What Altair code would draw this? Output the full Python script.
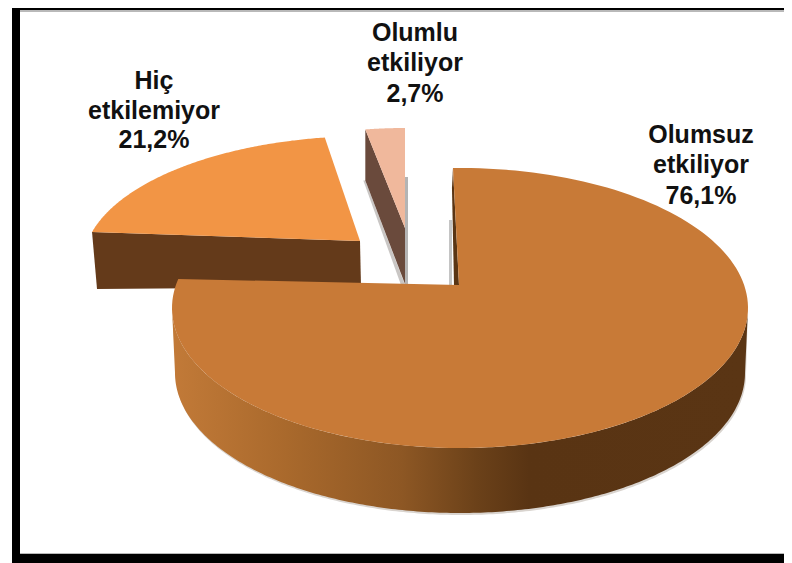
import numpy as np
import altair as alt

# --- chart values ---
categories = ["Olumsuz etkiliyor", "Hiç etkilemiyor", "Olumlu etkiliyor"]
shares = [76.1, 21.2, 2.7]
label_lines = [["Olumsuz", "etkiliyor", "76,1%"],
               ["Hiç", "etkilemiyor", "21,2%"],
               ["Olumlu", "etkiliyor", "2,7%"]]

# --- styling / layout (page pixels) ---
OFF = 8
top_colors = ["#c87a37", "#f29545", "#f0b89c"]
side_colors = ["#5a3514", "#643a1a", "#6a4a3c"]
label_x = [701, 154, 415]
label_y = [[135, 165, 196], [81, 111, 140], [33, 63, 94]]
FONT = "Liberation Sans"
FONT_SIZE = 25

# slice angles (clockwise from 12 o'clock) follow from the shares
ends = np.cumsum(shares) / sum(shares) * 360
starts = np.r_[0, ends[:-1]]

# ellipse: cx, cy, rx, ry; apex; depth; view offset for start/end angle
main_e = dict(cx=460, cy=308, rx=288, ry=140, apex=(459, 285), depth=65, a0=-1.4, a1=8)
main_low = dict(cx=460, cy=373, rx=285, ry=140)
hic_e = dict(cx=368, cy=264, rx=285, ry=128, apex=(360, 241), depth=46, a0=10.5, a1=1)
olu_e = dict(cx=405, cy=228, rx=235, ry=100, apex=(405, 228), depth=54, a0=0, a1=0)


def ell(e, deg):
    t = np.radians(np.atleast_1d(deg))
    return np.c_[e["cx"] + e["rx"] * np.sin(t), e["cy"] - e["ry"] * np.cos(t)]


def shape(points):
    pts = [[float(x), float(y)] for x, y in points]
    pts.append(pts[0])
    return {"type": "Feature", "properties": {},
            "geometry": {"type": "Polygon", "coordinates": [pts]}}


def wedge(e, s, t):
    arc = ell(e, np.linspace(s + e["a0"], t + e["a1"], 160))
    return shape(np.vstack([[e["apex"]], arc]))


def layer_shape(feature, **style):
    return (alt.Chart(alt.Data(values=[feature]))
            .mark_geoshape(filled=True, strokeWidth=0, **style)
            .project(type="identity", scale=1, translate=[-OFF, -OFF]))


def rect(x0, x1, y0, y1, color):
    return alt.Chart(alt.Data(values=[{"k": 1}])).mark_rect(color=color).encode(
        x=alt.value(x0 - OFF), x2=alt.value(x1 - OFF),
        y=alt.value(y0 - OFF), y2=alt.value(y1 - OFF))


layers = []

# Hiç etkilemiyor: cut face, then top
hx, hy = hic_e["apex"]
h_start = ell(hic_e, starts[1] + hic_e["a0"])[0]
layers.append(layer_shape(shape([h_start, (hx, hy), (hx + 1, hy + hic_e["depth"]),
                                 (h_start[0] + 5, h_start[1] + 57)]), fill=side_colors[1]))
layers.append(layer_shape(wedge(hic_e, starts[1], ends[1]), fill=top_colors[1]))

# Olumlu etkiliyor: soft shadow, cut face, top
ox, oy = olu_e["apex"]
o_start = ell(olu_e, starts[2])[0]
layers.append(rect(405, 408, 177, 284, "#b4b4b4"))
layers.append(layer_shape(shape([(o_start[0] - 2, o_start[1] + 51), (ox - 4, oy + 57),
                                 (ox, oy + 57), (o_start[0], o_start[1] + 51)]), fill="#c9c6c4"))
layers.append(layer_shape(shape([o_start, (ox, oy), (ox, oy + olu_e["depth"] + 2),
                                 (o_start[0], o_start[1] + 51)]), fill=side_colors[2]))
layers.append(layer_shape(wedge(olu_e, starts[2], ends[2]), fill=top_colors[2]))

# Olumsuz etkiliyor: soft edge, side with a lighting gradient, inner cut, top
front = ell(main_e, np.linspace(90, 270, 240))
lower = ell(main_low, np.linspace(270, 90, 240))
layers.append(layer_shape(shape(np.vstack([front, lower + [1, 2]])), fill="#d9d4cf"))
gradient = alt.LinearGradient(
    gradient="linear", x1=0, x2=1, y1=0, y2=0,
    stops=[alt.GradientStop(color="#c27a38", offset=0.0),
           alt.GradientStop(color="#a9692c", offset=0.2),
           alt.GradientStop(color="#8d5724", offset=0.4),
           alt.GradientStop(color="#6b4119", offset=0.53),
           alt.GradientStop(color="#593413", offset=0.62),
           alt.GradientStop(color="#5a3514", offset=1.0)])
layers.append(layer_shape(shape(np.vstack([front, lower])), fill=gradient))

mx, my = main_e["apex"]
m_start = ell(main_e, starts[0] + main_e["a0"])[0]
layers.append(rect(449, 452, 220, 285, "#c4c4c4"))
layers.append(layer_shape(shape([m_start, (mx, my), (mx - 5, my), (m_start[0] - 1, m_start[1] + 20)]),
                          fill=side_colors[0]))
layers.append(layer_shape(wedge(main_e, starts[0], ends[0]), fill=top_colors[0]))

# frame
layers.append(rect(12, 20, 8, 562, "#000000"))
layers.append(rect(12, 784, 8, 10, "#000000"))
layers.append(rect(20, 784, 10, 12, "#b9b9b9"))
layers.append(rect(12, 784, 554, 563, "#000000"))
layers.append(rect(20, 784, 553, 554, "#b9b9b9"))

# labels
for lines, x, ys in zip(label_lines, label_x, label_y):
    for line, y in zip(lines, ys):
        layers.append(alt.Chart(alt.Data(values=[{"t": line}]))
                      .mark_text(font=FONT, fontSize=FONT_SIZE, fontWeight="bold",
                                 color="#111111", align="center", baseline="middle")
                      .encode(text="t:N", x=alt.value(x - OFF), y=alt.value(y - OFF)))

chart = alt.layer(*layers).properties(
    width=776, height=555, padding=0, background="white"
).configure_view(stroke=None)

chart.save("out.html", embed_options={"renderer": "svg", "actions": False})
